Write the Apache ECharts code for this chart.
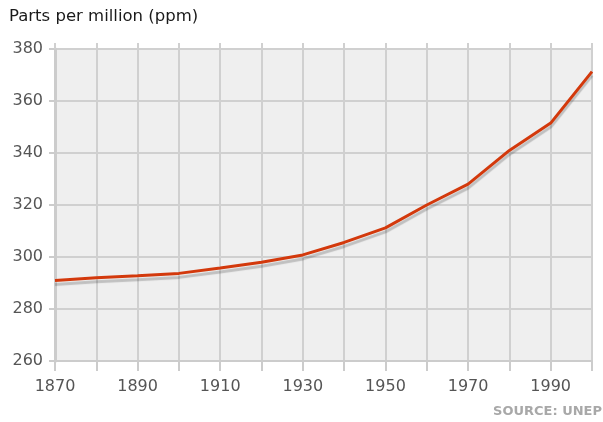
<!DOCTYPE html>
<html>
<head>
<meta charset="utf-8">
<script src="https://cdn.jsdelivr.net/npm/echarts@6/dist/echarts.min.js"></script>
<style>
    html, body { margin: 0; padding: 0; background: #fff; }
    #chart { width: 603px; height: 422px; }
</style>
</head>
<body>
<div id="chart"></div>
<script>
// 数据
const years = [1870, 1880, 1890, 1900, 1910, 1920, 1930, 1940, 1950, 1960, 1970, 1980, 1990, 2000];
const ppm = [291, 292, 292.8, 293.7, 295.8, 298, 300.8, 305.6, 311.2, 320, 328, 341, 351.5, 371.3];
const yTicks = [260, 280, 300, 320, 340, 360, 380];

const myChart = echarts.init(document.getElementById('chart'));
const font = 'DejaVu Sans, Verdana, sans-serif';

myChart.setOption({
    animation: false,
    textStyle: { fontFamily: font },
    graphic: [
        {
            type: 'text', left: 9, top: 8,
            style: { text: 'Parts per million (ppm)', font: '16.5px ' + font, fill: '#1a1a1a' }
        },
        {
            type: 'text', right: 1, top: 405,
            style: { text: 'SOURCE: UNEP', font: 'bold 13px ' + font, fill: '#a8a8a8' }
        }
    ],
    grid: {
        left: 55, right: 11, top: 49, bottom: 61,
        show: true, backgroundColor: '#efefef', borderWidth: 0
    },
    xAxis: [{
        type: 'value',
        min: 1870, max: 2000, interval: 10,
        axisLine: { show: true, lineStyle: { color: '#cccccc', width: 2 } },
        axisTick: { show: true, length: 10, lineStyle: { color: '#cccccc', width: 2 } },
        splitLine: { show: true, lineStyle: { color: '#d0d0d0', width: 2 } },
        axisLabel: {
            color: '#555', fontSize: 16, margin: 18,
            formatter: v => ((v - 1870) % 20 === 0 && v < 2000) ? String(v) : ''
        }
    }, {
        // 顶部：竖线略微伸出网格
        type: 'value', position: 'top',
        min: 1870, max: 2000, interval: 10,
        axisLine: { show: false },
        axisTick: { show: true, length: 6, lineStyle: { color: '#d0d0d0', width: 2 } },
        splitLine: { show: false },
        axisLabel: { show: false }
    }],
    yAxis: {
        type: 'value',
        min: yTicks[0], max: yTicks[yTicks.length - 1], interval: 20,
        axisLine: { show: true, lineStyle: { color: '#cccccc', width: 3 } },
        axisTick: { show: true, length: 6, lineStyle: { color: '#cccccc', width: 2 } },
        splitLine: { show: true, lineStyle: { color: '#d0d0d0', width: 2 } },
        axisLabel: { color: '#555', fontSize: 16, margin: 12 }
    },
    series: [{
        type: 'line',
        data: years.map((y, i) => [y, ppm[i]]),
        symbol: 'none',
        lineStyle: {
            color: '#d3390c', width: 3,
            shadowColor: 'rgba(0,0,0,0.2)', shadowOffsetY: 4, shadowBlur: 1
        }
    }]
});
</script>
</body>
</html>
